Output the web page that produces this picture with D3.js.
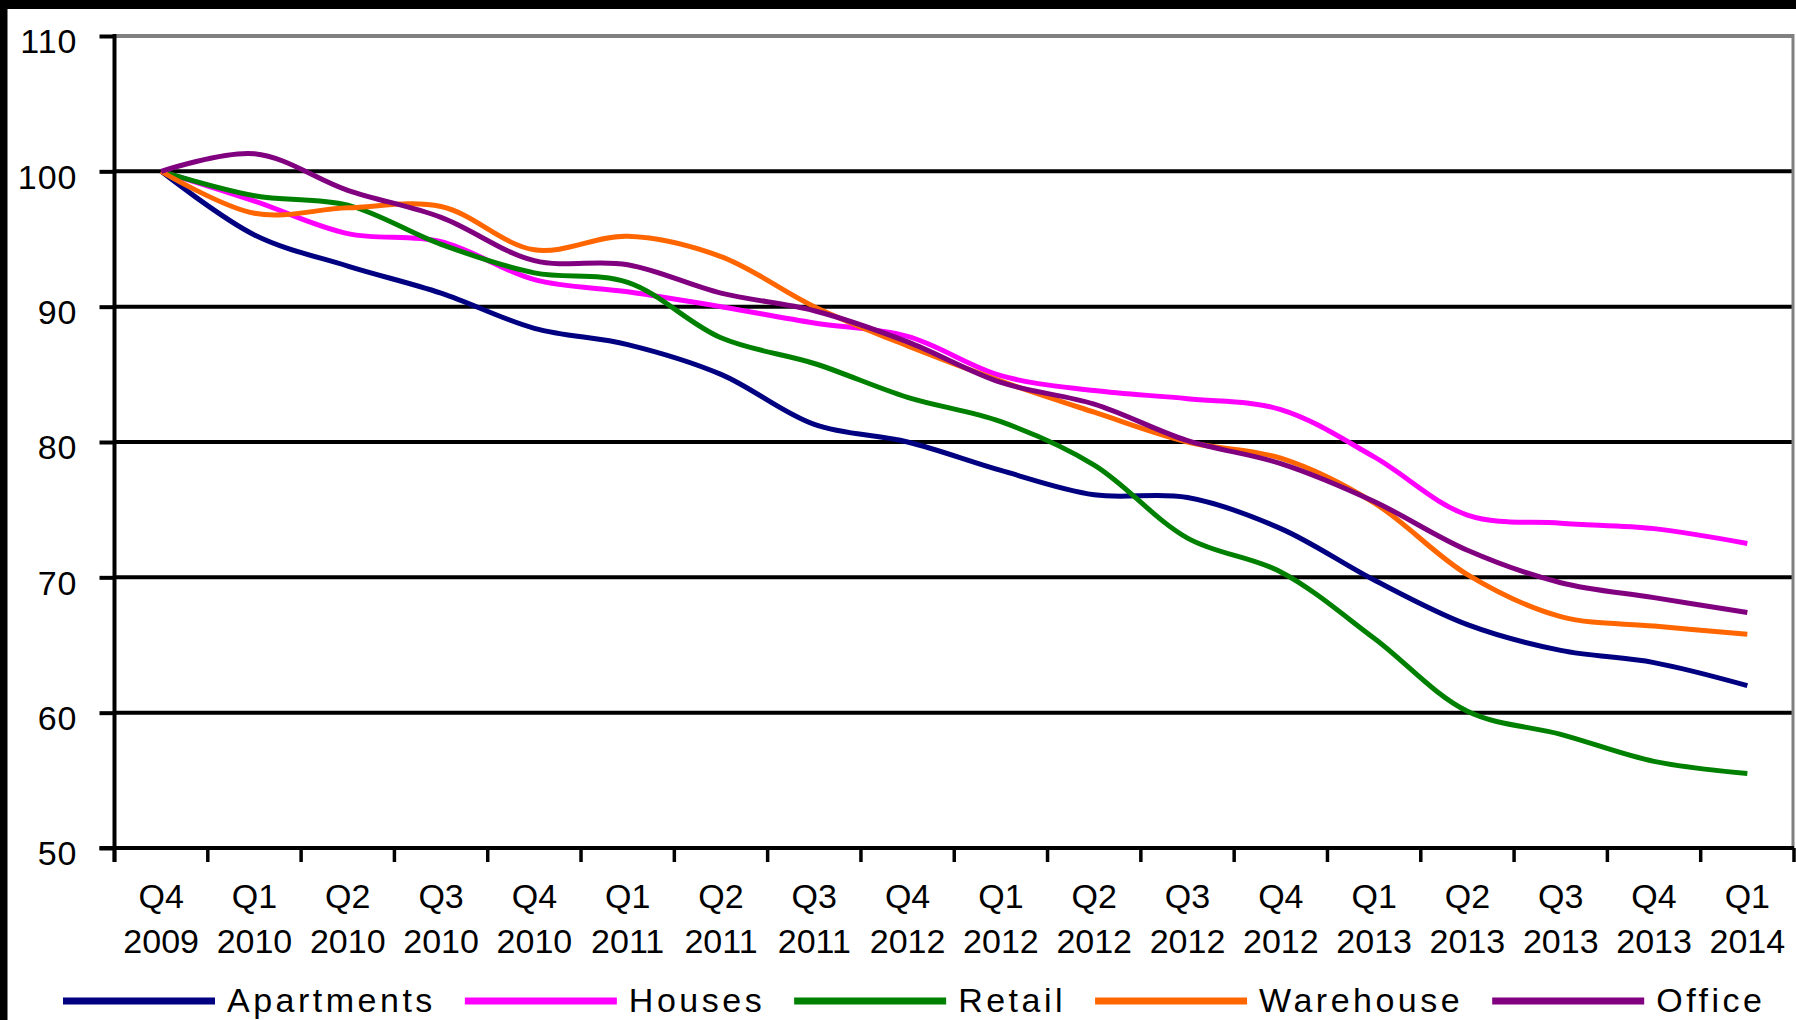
<!DOCTYPE html>
<html>
<head>
<meta charset="utf-8">
<script src="https://cdn.jsdelivr.net/npm/d3@7"></script>
<style>
  html, body { margin: 0; padding: 0; background: #ffffff; }
  svg { display: block; }
  text { font-family: "Liberation Sans", Arial, sans-serif; fill: #000; }
</style>
</head>
<body>
<svg id="chart" width="1796" height="1020"></svg>
<script>
// ---- data ----
const quarters = ["Q4","Q1","Q2","Q3","Q4","Q1","Q2","Q3","Q4","Q1","Q2","Q3","Q4","Q1","Q2","Q3","Q4","Q1"];
const years    = ["2009","2010","2010","2010","2010","2011","2011","2011","2012","2012","2012","2012","2012","2013","2013","2013","2013","2014"];
const yTicks = [50, 60, 70, 80, 90, 100, 110];

const apartments = [100, 95.3, 93.0, 91.0, 88.4, 87.2, 85.0, 81.3, 80.0, 77.9, 76.1, 75.9, 73.6, 69.8, 66.5, 64.6, 63.7, 62.0];
const houses     = [100, 97.8, 95.4, 94.8, 92.0, 91.1, 90.0, 88.8, 87.8, 84.9, 83.8, 83.2, 82.4, 78.9, 74.6, 74.0, 73.6, 72.5];
const retail     = [100, 98.2, 97.5, 94.6, 92.5, 91.8, 87.7, 85.8, 83.3, 81.5, 78.3, 72.9, 70.4, 65.5, 60.1, 58.4, 56.4, 55.5];
const warehouse  = [100, 96.9, 97.3, 97.4, 94.2, 95.2, 93.7, 90.0, 87.1, 84.5, 82.2, 80.0, 78.8, 75.5, 70.2, 67.1, 66.4, 65.8];
const office     = [100, 101.3, 98.6, 96.6, 93.4, 93.1, 91.0, 89.7, 87.4, 84.4, 82.8, 80.1, 78.4, 75.6, 72.0, 69.6, 68.5, 67.4];

const seriesNames  = ["Apartments", "Houses", "Retail", "Warehouse", "Office"];
const seriesValues = [apartments, houses, retail, warehouse, office];
const seriesColors = ["#000080", "#FF00FF", "#008000", "#FF6600", "#800080"];

(function () {
// ---- layout ----
const svg = d3.select("#chart");
const W = 1796, H = 1020;
const pL = 114.5, pR = 1794, pT = 36, pB = 848;

svg.append("rect").attr("x", 0).attr("y", 0).attr("width", W).attr("height", H).attr("fill", "#fff");
// black frame bands (top and left)
svg.append("rect").attr("x", 0).attr("y", 0).attr("width", W).attr("height", 9).attr("fill", "#000");
svg.append("rect").attr("x", 0).attr("y", 0).attr("width", 7.5).attr("height", H).attr("fill", "#000");

const idx = d3.range(quarters.length);
const x = d3.scaleBand().domain(idx).range([pL, pR]).paddingInner(0).paddingOuter(0);
const y = d3.scaleLinear().domain([50, 110]).range([pB, pT]);

// gridlines
const grid = svg.append("g");
grid.selectAll("line").data(yTicks.filter(v => v > 50)).join("line")
  .attr("x1", pL).attr("x2", pR)
  .attr("y1", d => y(d)).attr("y2", d => y(d))
  .attr("stroke", d => d === 110 ? "#808080" : "#000")
  .attr("stroke-width", 4);

// right border of plot area
svg.append("line").attr("x1", pR - 1).attr("x2", pR - 1).attr("y1", pT - 2).attr("y2", pB)
  .attr("stroke", "#808080").attr("stroke-width", 3);

// Y axis
const yAxis = d3.axisLeft(y).tickValues(yTicks).tickSize(15).tickPadding(22).tickFormat(d3.format("d"));
const gy = svg.append("g").attr("transform", `translate(${pL},0)`).call(yAxis);
gy.select(".domain").remove();
gy.selectAll(".tick line").attr("stroke", "#000").attr("stroke-width", 4);
gy.selectAll(".tick text").attr("font-size", 34).attr("dy", "0.49em").attr("letter-spacing", "1px")
  .style("font-family", '"Liberation Sans", Arial, sans-serif');
svg.append("line").attr("x1", pL).attr("x2", pL).attr("y1", pT - 2).attr("y2", pB + 14)
  .attr("stroke", "#000").attr("stroke-width", 4);

// X axis line and ticks at band boundaries
svg.append("line").attr("x1", pL - 15).attr("x2", pR).attr("y1", pB).attr("y2", pB)
  .attr("stroke", "#000").attr("stroke-width", 4);
const boundaries = idx.map(i => x(i)).concat([x(idx[idx.length - 1]) + x.bandwidth()]);
svg.append("g").selectAll("line").data(boundaries).join("line")
  .attr("x1", d => d).attr("x2", d => d)
  .attr("y1", pB).attr("y2", pB + 14)
  .attr("stroke", "#000").attr("stroke-width", 3.5);

// X labels
const xl = svg.append("g").selectAll("text").data(idx).join("text")
  .attr("text-anchor", "middle")
  .attr("font-size", 34)
  .attr("transform", i => `translate(${x(i) + x.bandwidth() / 2},0)`);
xl.append("tspan").attr("x", 0).attr("y", 908).text(i => quarters[i]);
xl.append("tspan").attr("x", 0).attr("y", 953).text(i => years[i]);

// Lines
const line = d3.line()
  .x((d, i) => x(i) + x.bandwidth() / 2)
  .y(d => y(d))
  .curve(d3.curveCatmullRom.alpha(0.5));

svg.append("g").selectAll("path").data(seriesValues).join("path")
  .attr("d", d => line(d))
  .attr("fill", "none")
  .attr("stroke", (d, i) => seriesColors[i])
  .attr("stroke-width", 5)
  .attr("stroke-linejoin", "round");

// Legend
const lg = svg.append("g");
let cx = 63;
const ly = 1001;
seriesNames.forEach((name, i) => {
  lg.append("line").attr("x1", cx).attr("x2", cx + 152).attr("y1", ly).attr("y2", ly)
    .attr("stroke", seriesColors[i]).attr("stroke-width", 7);
  const t = lg.append("text").attr("x", cx + 164).attr("y", 1012)
    .attr("font-size", 34).attr("letter-spacing", "3.5px").text(name);
  const w = t.node().getComputedTextLength();
  cx = cx + 164 + w + 29;
});
})();
</script>
</body>
</html>
